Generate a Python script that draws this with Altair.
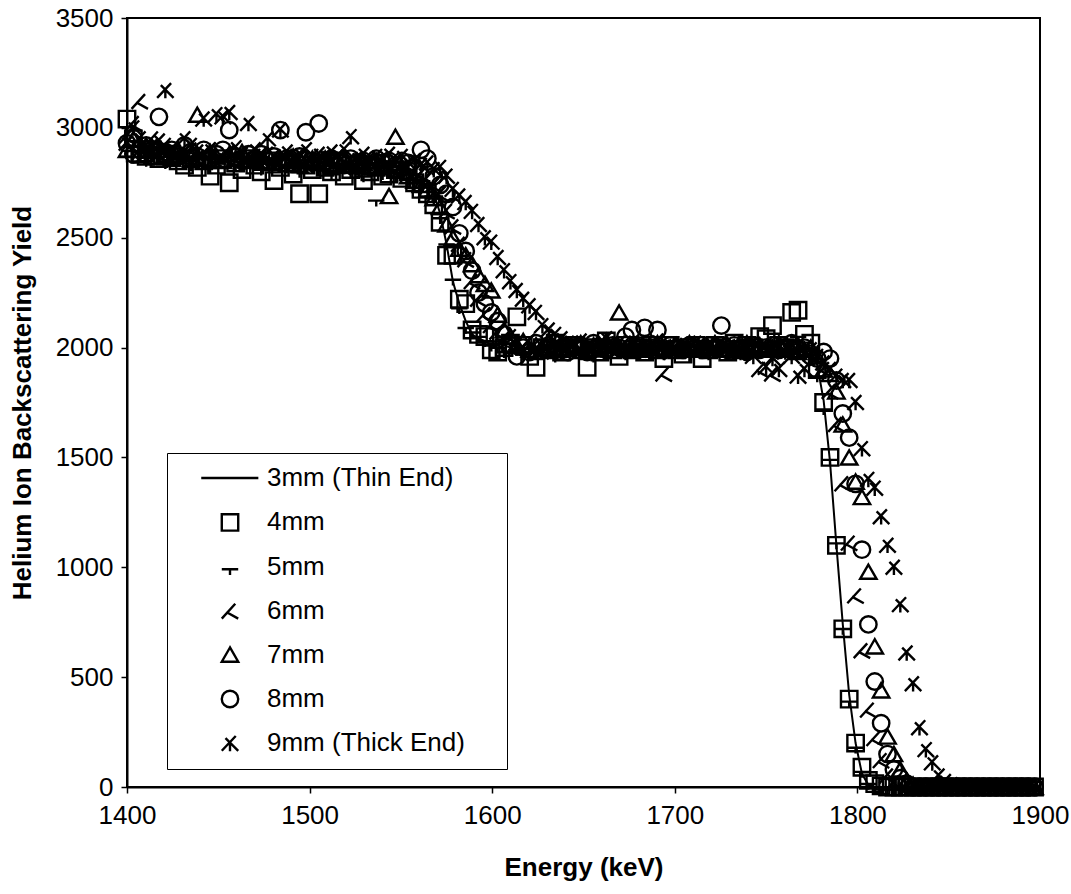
import altair as alt
import pandas as pd

# Channel energies (keV)
energy_kev = [
    1400, 1403.5, 1407, 1410.5, 1414, 1417.5, 1421, 1424.5, 1428, 1431.5,
    1435, 1438.5, 1442, 1445.5, 1449, 1452.5, 1456, 1459.5, 1463, 1466.5,
    1470, 1473.5, 1477, 1480.5, 1484, 1487.5, 1491, 1494.5, 1498, 1501.5,
    1505, 1508.5, 1512, 1515.5, 1519, 1522.5, 1526, 1529.5, 1533, 1536.5,
    1540, 1543.5, 1547, 1550.5, 1554, 1557.5, 1561, 1564.5, 1568, 1571.5,
    1575, 1578.5, 1582, 1585.5, 1589, 1592.5, 1596, 1599.5, 1603, 1606.5,
    1610, 1613.5, 1617, 1620.5, 1624, 1627.5, 1631, 1634.5, 1638, 1641.5,
    1645, 1648.5, 1652, 1655.5, 1659, 1662.5, 1666, 1669.5, 1673, 1676.5,
    1680, 1683.5, 1687, 1690.5, 1694, 1697.5, 1701, 1704.5, 1708, 1711.5,
    1715, 1718.5, 1722, 1725.5, 1729, 1732.5, 1736, 1739.5, 1743, 1746.5,
    1750, 1753.5, 1757, 1760.5, 1764, 1767.5, 1771, 1774.5, 1778, 1781.5,
    1785, 1788.5, 1792, 1795.5, 1799, 1802.5, 1806, 1809.5, 1813, 1816.5,
    1820, 1823.5, 1827, 1830.5, 1834, 1837.5, 1841, 1844.5, 1848, 1851.5,
    1855, 1858.5, 1862, 1865.5, 1869, 1872.5, 1876, 1879.5, 1883, 1886.5,
    1890, 1893.5, 1897,
]

# Backscattering yield at each position along the wedge
y_3mm = [
    2920, 2900, 2890, 2910, 2880, 2870, 2890, 2860, 2880, 2870,
    2850, 2870, 2860, 2850, 2870, 2840, 2860, 2850, 2830, 2860,
    2840, 2850, 2830, 2850, 2820, 2840, 2830, 2820, 2840, 2820,
    2830, 2810, 2820, 2830, 2800, 2820, 2810, 2800, 2820, 2810,
    2790, 2800, 2790, 2780, 2790, 2770, 2760, 2740, 2700, 2610,
    2470, 2300, 2200, 2120, 2060, 2040, 2030, 2010, 2000, 2010,
    2000, 2020, 2000, 1990, 2000, 2010, 1990, 2000, 1990, 2000,
    2000, 1990, 2000, 1990, 2000, 2010, 1990, 2000, 1990, 2000,
    1990, 2000, 2010, 1990, 2000, 1990, 2000, 1990, 2000, 2010,
    1990, 2000, 1990, 2000, 2010, 1990, 2000, 1990, 2000, 2010,
    2000, 2010, 2000, 1990, 2010, 2020, 2000, 1990, 1920, 1760,
    1480, 1100, 740, 420, 200, 60, 10, 0, 0, 0,
    0, 0, 0, 0, 0, 0, 0, 0, 0, 0,
    0, 0, 0, 0, 0, 0, 0, 0, 0, 0,
    0, 0, 0,
]
y_4mm = [
    3040, 2950, 2880, 2870, 2900, 2860, 2870, 2880, 2850, 2830,
    2860, 2820, 2850, 2780, 2830, 2860, 2750, 2840, 2810, 2860,
    2830, 2800, 2850, 2760, 2820, 2840, 2790, 2700, 2830, 2810,
    2700, 2820, 2800, 2840, 2780, 2810, 2830, 2760, 2800, 2820,
    2780, 2790, 2810, 2770, 2800, 2750, 2720, 2700, 2650, 2570,
    2420, 2420, 2220, 2200, 2080, 2060, 2050, 1990, 1980, 2000,
    2020, 2140, 2010, 1960, 1910, 2000, 1990, 2020, 1980, 2000,
    2010, 1990, 1910, 2000, 1980, 2030, 1990, 1960, 2010, 1990,
    2000, 1980, 2010, 1990, 1950, 2010, 1990, 1970, 2000, 2010,
    1950, 1990, 2010, 2000, 1980, 2020, 1990, 2010, 2000, 2050,
    2040, 2100, 2010, 2000, 2160, 2170, 2060, 2020, 1900, 1750,
    1500, 1100, 720, 400, 200, 90, 30, 15, 5, 0,
    0, 0, 0, 0, 0, 0, 0, 0, 0, 0,
    0, 0, 0, 0, 0, 0, 0, 0, 0, 0,
    0, 0, 0,
]
y_5mm = [
    2880, 2950, 2900, 2860, 2890, 2920, 2850, 2880, 2870, 2900,
    2840, 2880, 2870, 2830, 2850, 2880, 2860, 2840, 2870, 2850,
    2860, 2820, 2850, 2840, 2870, 2830, 2850, 2810, 2840, 2830,
    2820, 2850, 2800, 2830, 2840, 2810, 2820, 2790, 2830, 2680,
    2800, 2810, 2790, 2820, 2780, 2760, 2740, 2720, 2690, 2600,
    2480, 2320, 2190, 2100, 2080, 2060, 2040, 2020, 2010, 1990,
    2030, 2000, 1980, 2010, 1990, 2000, 2020, 1970, 2000, 1990,
    1990, 2010, 2000, 1970, 2020, 1990, 2000, 2010, 1980, 2000,
    2010, 1990, 2000, 2020, 1980, 2000, 1990, 2010, 1970, 2000,
    2000, 1980, 2010, 1990, 2000, 2010, 1980, 2000, 2020, 1990,
    2010, 1990, 2030, 2000, 2040, 2060, 2020, 1980, 1880, 1730,
    1500, 1120, 730, 400, 190, 80, 25, 10, 0, 0,
    0, 0, 0, 0, 0, 0, 0, 0, 0, 0,
    0, 0, 0, 0, 0, 0, 0, 0, 0, 0,
    0, 0, 0,
]
y_6mm = [
    2960, 3020, 3120, 2900, 2950, 2880, 2920, 2900, 2870, 2890,
    2900, 2860, 2880, 2900, 2850, 2870, 2890, 2860, 2880, 2850,
    2870, 2840, 2880, 2860, 2850, 2870, 2840, 2860, 2830, 2850,
    2860, 2830, 2850, 2870, 2840, 2850, 2820, 2840, 2860, 2830,
    2850, 2830, 2840, 2820, 2830, 2800, 2790, 2770, 2740, 2700,
    2620, 2550, 2470, 2400, 2300, 2220, 2150, 2100, 2070, 2040,
    2050, 2020, 2000, 2030, 1990, 2010, 2000, 1980, 2020, 2000,
    2010, 1990, 2000, 2020, 1980, 2000, 2010, 1990, 2020, 2000,
    1990, 2010, 2000, 1980, 1880, 2000, 2010, 1990, 2000, 2020,
    1990, 2010, 2000, 2020, 1990, 2000, 1980, 2010, 1990, 1900,
    2000, 1880, 2000, 1990, 2010, 1980, 1990, 1970, 1950, 1900,
    1800, 1650, 1380, 1110, 870, 620, 350, 220, 120, 50,
    20, 5, 0, 0, 0, 0, 0, 0, 0, 0,
    0, 0, 0, 0, 0, 0, 0, 0, 0, 0,
    0, 0, 0,
]
y_7mm = [
    2900, 2950, 2880, 2920, 2870, 2900, 2880, 2860, 2900, 2870,
    2880, 3060, 2860, 2890, 2870, 2850, 2880, 2860, 2890, 2850,
    2870, 2850, 2880, 2840, 2860, 2850, 2870, 2830, 2850, 2860,
    2840, 2860, 2830, 2850, 2870, 2830, 2850, 2840, 2820, 2850,
    2830, 2690, 2960, 2820, 2780, 2760, 2740, 2720, 2680, 2640,
    2560, 2500, 2450, 2420, 2380, 2330, 2290, 2260, 2150, 2080,
    2050, 2010, 2030, 1990, 2010, 2000, 2030, 2000, 1990, 2010,
    2000, 2020, 1990, 2010, 2000, 2030, 2010, 2160, 1990, 2000,
    2010, 1990, 2000, 2020, 1990, 2000, 2010, 1990, 2020, 2000,
    1990, 2000, 2020, 1990, 2010, 2000, 1990, 2020, 2000, 2010,
    1990, 2000, 2020, 2010, 1990, 1980, 1990, 2000, 1960, 1900,
    1880, 1800, 1650, 1500, 1390, 1320, 980, 640, 440, 230,
    150, 80, 30, 10, 0, 0, 0, 0, 0, 0,
    0, 0, 0, 0, 0, 0, 0, 0, 0, 0,
    0, 0, 0,
]
y_8mm = [
    2930, 2880, 2900, 2920, 2870, 3050, 2890, 2900, 2870, 2920,
    2890, 2870, 2900, 2860, 2880, 2900, 2990, 2870, 2850, 2880,
    2860, 2880, 2850, 2870, 2990, 2860, 2840, 2870, 2980, 2850,
    3020, 2840, 2860, 2850, 2830, 2860, 2840, 2850, 2830, 2860,
    2840, 2850, 2830, 2850, 2840, 2820, 2900, 2860, 2780, 2740,
    2700, 2640, 2520, 2440, 2350, 2250, 2200, 2160, 2120, 2060,
    2010, 1960, 2000, 1980, 2020, 2000, 2010, 1990, 2000, 1980,
    2000, 2010, 1980, 2020, 2000, 1990, 2010, 2000, 2050, 2080,
    2010, 2090, 2000, 2080, 1990, 2010, 2000, 1990, 2010, 2000,
    1990, 2010, 2000, 2100, 1990, 2010, 2000, 1980, 2010, 1990,
    2000, 2010, 1990, 2000, 2020, 1990, 2000, 1960, 1950, 1980,
    1950, 1850, 1700, 1590, 1380, 1080, 740, 480, 290, 150,
    80, 40, 15, 0, 0, 0, 0, 0, 0, 0,
    0, 0, 0, 0, 0, 0, 0, 0, 0, 0,
    0, 0, 0,
]
y_9mm = [
    2930, 3000, 2950, 2880, 2920, 2940, 3170, 2900, 2880, 2950,
    2920, 2890, 3040, 2900, 3060, 3050, 3070, 2910, 2880, 3020,
    2900, 2880, 2950, 2870, 2990, 2890, 2860, 2880, 2900, 2870,
    2880, 2870, 2890, 2870, 2900, 2960, 2860, 2880, 2850, 2870,
    2860, 2880, 2850, 2870, 2840, 2850, 2830, 2840, 2810, 2820,
    2780, 2720, 2690, 2660, 2620, 2560, 2500, 2480, 2410, 2350,
    2300, 2260, 2220, 2190, 2160, 2100, 2080, 2060, 2040, 2020,
    2010, 2030, 2000, 1990, 2010, 2040, 2000, 2020, 1990, 2010,
    2000, 2010, 1990, 2030, 2000, 2010, 1990, 2000, 2020, 1990,
    2010, 2000, 1990, 2020, 2000, 2010, 1990, 2000, 1960, 1990,
    1910, 1950, 1900, 1980, 1960, 1870, 1900, 1990, 1960, 1930,
    1900, 1870, 1850, 1850, 1750, 1540, 1400, 1360, 1230, 1100,
    1000, 830, 610, 470, 270, 170, 110, 50, 25, 10,
    5, 0, 0, 0, 0, 0, 0, 0, 0, 0,
    0, 0, 0,
]

series_names = [
    "3mm (Thin End)", "4mm", "5mm", "6mm", "7mm", "8mm", "9mm (Thick End)",
]
series_values = [y_3mm, y_4mm, y_5mm, y_6mm, y_7mm, y_8mm, y_9mm]

# Marker glyphs (unit-box SVG paths). The first one is the legend key of the
# line series; its trailing move-to draws nothing but widens the legend frame.
marker_shapes = [
    "M-3.5,0L3.45,0M31.6,0",
    "square",
    "M-1,0.3L1,0.3M0,0.3L0,1",
    "M-1,0.9L0.64,-0.9M-0.45,0.1L1,0.9",
    "triangle-up",
    "circle",
    "M-1,0.9L0.7,-0.9M-0.55,-0.65L1,0.9M0,0L0,0.95",
]

rows = []
for name, vals in zip(series_names, series_values):
    for e, v in zip(energy_kev, vals):
        rows.append({"energy": e, "yield": v, "series": name})
df = pd.DataFrame(rows)

FONT = "Liberation Sans"
FS = 26
MARK_SIZE = 270
x_enc = alt.X(
    "energy:Q",
    scale=alt.Scale(domain=[1400, 1900], nice=False),
    axis=alt.Axis(values=[1400, 1500, 1600, 1700, 1800, 1900], title="Energy (keV)",
                  format="d", labelFlush=False, labelPadding=9, titlePadding=26),
)
y_enc = alt.Y(
    "yield:Q",
    scale=alt.Scale(domain=[0, 3500], nice=False),
    axis=alt.Axis(values=[0, 500, 1000, 1500, 2000, 2500, 3000, 3500],
                  format="d", labelFlush=False,
                  title="Helium Ion Backscattering Yield", titlePadding=20),
)

line = (
    alt.Chart(df[df.series == series_names[0]])
    .mark_line(color="black", strokeWidth=2)
    .encode(x=x_enc, y=y_enc)
)

points = (
    alt.Chart(df)
    .transform_filter(alt.datum.series != series_names[0])
    .mark_point(filled=False, color="black", strokeWidth=2.4, size=MARK_SIZE, opacity=1)
    .encode(
        x=x_enc,
        y=y_enc,
        shape=alt.Shape(
            "series:N",
            scale=alt.Scale(domain=series_names, range=marker_shapes),
            sort=series_names,
            legend=alt.Legend(
                title=None,
                orient="none",
                legendX=40,
                legendY=435,
                direction="vertical",
                padding=12,
                strokeColor="black",
                fillColor="white",
                symbolSize=MARK_SIZE,
                symbolOffset=38,
                symbolStrokeColor="black",
                symbolFillColor="transparent",
                symbolStrokeWidth=2.4,
                labelFontSize=FS,
                labelFont=FONT,
                labelColor="black",
                labelOffset=24,
                labelLimit=0,
                rowPadding=17.4,
            ),
        ),
    )
)

chart = (
    alt.layer(line, points)
    .properties(
        width=913,
        height=769,
        autosize=alt.AutoSizeParams(type="none"),
        padding={"left": 127, "top": 18, "right": 31, "bottom": 107},
        background="white",
    )
    .configure_view(stroke="black", strokeWidth=2)
    .configure_axis(
        labelFont=FONT,
        labelFontSize=FS,
        labelColor="black",
        titleFont=FONT,
        titleFontSize=FS,
        titleFontWeight="bold",
        titleColor="black",
        domainColor="black",
        domainWidth=2,
        tickColor="black",
        tickWidth=1.5,
        tickSize=6,
        labelPadding=8,
        grid=False,
    )
)

chart.save("out.html", embed_options={"renderer": "svg", "actions": False})
